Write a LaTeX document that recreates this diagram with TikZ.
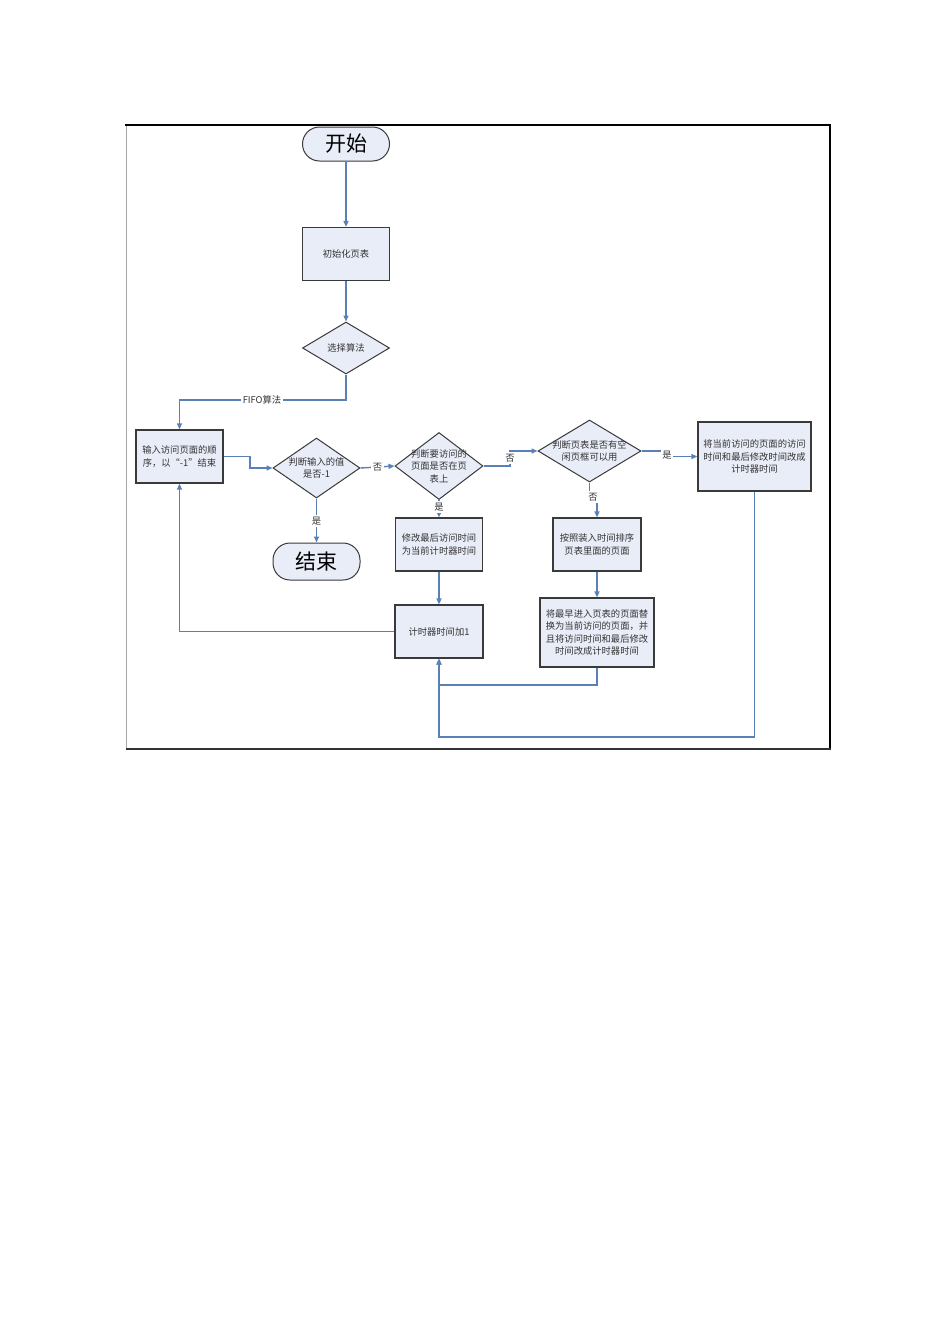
\documentclass[tikz,border=0pt]{standalone}
\usepackage{fontspec}
\setmainfont{Noto Sans CJK SC}
\usetikzlibrary{shapes.geometric,arrows.meta,calc}
\definecolor{boxfill}{HTML}{E9EDF8}
\definecolor{boxline}{HTML}{3A3A3A}
\definecolor{conncol}{HTML}{5B80B6}
\definecolor{txtcol}{HTML}{333333}
\begin{document}
\begin{tikzpicture}[x=1pt,y=-1pt,
  proc/.style={draw=boxline, line width=1.2pt, fill=boxfill, inner sep=0pt, align=center,
    font=\fontsize{9.3}{12.5}\selectfont, text=txtcol},
  term/.style={draw=boxline, line width=1pt, fill=boxfill, rounded corners=17pt, inner sep=0pt,
    minimum width=87pt, font=\fontsize{21}{24}\selectfont, text=black},
  dia/.style={diamond, draw=boxline, line width=1pt, fill=boxfill, inner sep=0pt},
  lbl/.style={font=\fontsize{9.3}{12.5}\selectfont, text=txtcol, align=center, inner sep=0pt},
  yn/.style={fill=white, inner sep=1.5pt, font=\fontsize{9.3}{11}\selectfont, text=txtcol},
  cline/.style={draw=conncol, line width=1.4pt},
  arr/.style={cline, -{Triangle[length=6pt,width=5pt]}}
]
\fill[white] (0,0) rectangle (950,1344);
\useasboundingbox (0,0) rectangle (950,1344);

% frame
\draw[gray!70, line width=1pt] (126,125) -- (126,749);
\draw[black, line width=2pt] (125,125) -- (831,125);
\draw[black, line width=2pt] (830,124) -- (830,749);
\draw[black!80, line width=2pt] (126,749) -- (831,749);

% nodes
\node[term, minimum height=34pt] (start) at (346,144) {开始};
\node[proc, minimum width=87pt, minimum height=53pt] (init) at (346,254) {初始化页表};
\node[dia, minimum width=87pt, minimum height=52pt] (sel) at (346,348) {};
\node[lbl] (selt) at (sel) {选择算法};

\node[proc, minimum width=87pt, minimum height=53pt] (inp) at (179.5,456.5) {输入访问页面的顺\\序，以“-1”结束};

\node[dia, minimum width=87pt, minimum height=60pt] (d1) at (316.5,468) {};
\node[lbl] (d1t) at (d1) {判断输入的值\\是否-1};

\node[dia, minimum width=88pt, minimum height=67pt] (d2) at (439,466) {};
\node[lbl] (d2t) at (d2) {判断要访问的\\页面是否在页\\表上};

\node[dia, minimum width=103pt, minimum height=62pt] (d3) at (589.5,451) {};
\node[lbl] (d3t) at (d3) {判断页表是否有空\\闲页框可以用};

\node[proc, minimum width=113pt, minimum height=69pt] (b4) at (754.5,456.5) {将当前访问的页面的访问\\时间和最后修改时间改成\\计时器时间};

\node[term, minimum height=37pt] (end) at (316.5,561.5) {结束};

\node[proc, minimum width=87pt, minimum height=53pt] (b2) at (439,544.5) {修改最后访问时间\\为当前计时器时间};
\node[proc, minimum width=88pt, minimum height=53pt] (b5) at (597,544.5) {按照装入时间排序\\页表里面的页面};
\node[proc, minimum width=88pt, minimum height=53pt] (b3) at (439,631.5) {计时器时间加1};
\node[proc, minimum width=114pt, minimum height=69pt] (b6) at (597,632.5) {将最早进入页表的页面替\\换为当前访问的页面，并\\且将访问时间和最后修改\\时间改成计时器时间};

% connectors
\draw[arr] (start.south) -- (init.north);
\draw[arr] (init.south) -- (sel.north);
\draw[arr] (sel.south) -- (346,400) -| (inp.north);
\node[yn] (fifo) at (262,400) {FIFO算法};

\draw[arr] (inp.east) -- (250,456.5) |- (d1.west);
\draw[arr] (d1.east) -- (d2.west);
\node[yn] (n1) at ($(d1.east)!0.5!(d2.west)$) {否};

\draw[arr] (d2.east) -- (510,466) |- (d3.west);
\node[yn] (n2) at (510,458) {否};

\draw[arr] (d3.east) -- (667,451) |- (b4.west);
\node[yn] (y3) at (667,455) {是};

\draw[arr] (d3.south) -- (589.5,497) -| (b5.north);
\node[yn] (n3) at (593,497) {否};

\draw[arr] (d1.south) -- (end.north);
\node[yn] (y1) at (316.5,521) {是};

\draw[arr] (d2.south) -- (b2.north);
\node[yn] (y2) at (439,507) {是};

\draw[arr] (b2.south) -- (b3.north);
\draw[arr] (b5.south) -- (b6.north);
\draw[arr] (b3.west) -| (inp.south);
\draw[arr] (b6.south) -- (597,685) -| (b3.south);
\draw[arr] (b4.south) -- (754.5,737) -| (b3.south);
\end{tikzpicture}
\end{document}
